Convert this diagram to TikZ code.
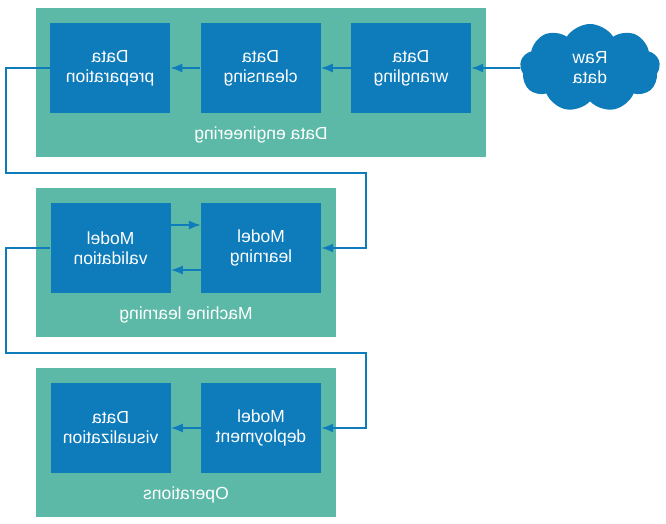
\documentclass[tikz,border=0pt]{standalone}
\usepackage{fontspec}
\setmainfont{Liberation Sans}
\usetikzlibrary{positioning,shapes.symbols,arrows.meta}
\definecolor{stageblue}{RGB}{14,123,186}
\definecolor{groupteal}{RGB}{92,185,167}
\newcommand{\flip}[2][118pt]{\reflectbox{\parbox{#1}{\centering #2}}}

\begin{document}
\begin{tikzpicture}[x=1pt, y=-1pt, font=\fontsize{17.5}{20}\selectfont, text=white,
    group/.style={fill=groupteal, minimum height=149pt, inner sep=0pt},
    box/.style={fill=stageblue, minimum width=120pt, minimum height=90pt, inner sep=0pt},
    flow/.style={draw=stageblue, line width=1.6pt, -{Latex[length=12pt,width=9pt]}}]
    \useasboundingbox[fill=white] (0,0) rectangle (666,523);
    \node[group, minimum width=450pt] (eng) at (261,82.5) {};
    \node[group, minimum width=300pt] (ml) at (186,262.5) {};
    \node[group, minimum width=300pt] (ops) at (186,442.5) {};
    \node at (261,135) {\reflectbox{Data engineering}};
    \node at (186,315) {\reflectbox{Machine learning}};
    \node at (186,495) {\reflectbox{Operations}};
    \node[box] (wrang) at (411,68) {\flip{Data\\wrangling}};
    \node[box, left=30pt of wrang] (clean) {\flip{Data\\cleansing}};
    \node[box, left=30pt of clean] (prep) {\flip{Data\\preparation}};
    \node[box] (learn) at (261,248) {\flip{Model\\learning}};
    \node[box, left=30pt of learn] (valid) {\flip{Model\\validation}};
    \node[box] (deploy) at (261,428) {\flip{Model\\deployment}};
    \node[box, left=30pt of deploy] (visual) {\flip{Data\\visualization}};
    \node[cloud, cloud puffs=9, cloud puff arc=115, aspect=1.6, fill=stageblue, inner sep=0pt,
          minimum width=140pt, minimum height=88pt] (raw) at (590,68) {\flip[40pt]{Raw\\data}};
    \coordinate (turnA) at (6,173);
    \coordinate (turnB) at (366,173);
    \coordinate (turnC) at (6,353);
    \coordinate (turnD) at (366,353);
    \draw[flow] (raw) -- (wrang);
    \draw[flow] (wrang) -- (clean);
    \draw[flow] (clean) -- (prep);
    \draw[flow] (prep.west) -| (turnA) -- (turnB) |- (learn.east);
    \draw[flow] ([yshift=23pt]valid.east) -- ([yshift=23pt]learn.west);
    \draw[flow] ([yshift=-22pt]learn.west) -- ([yshift=-22pt]valid.east);
    \draw[flow] (valid.west) -| (turnC) -- (turnD) |- (deploy.east);
    \draw[flow] (deploy) -- (visual);
\end{tikzpicture}
\end{document}
